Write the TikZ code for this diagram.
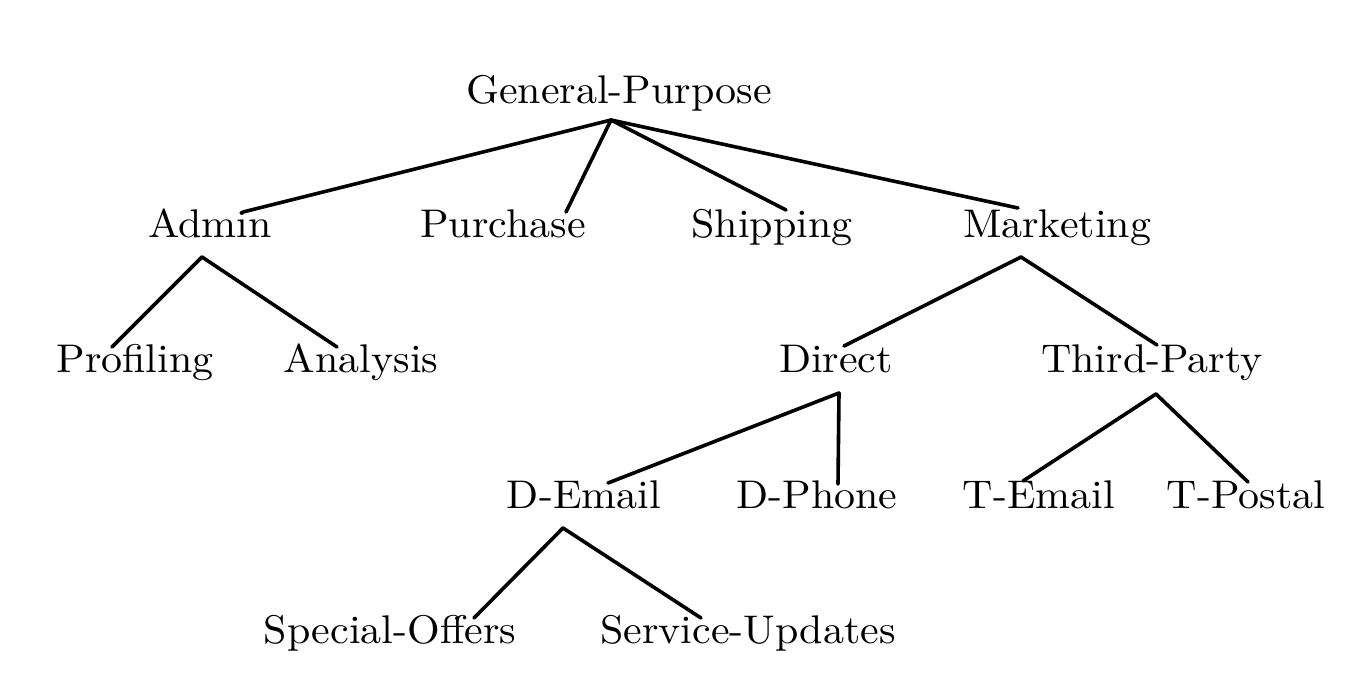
\documentclass[tikz,border=0pt]{standalone}
\begin{document}
\begin{tikzpicture}[x=1pt,y=-1pt,
  lbl/.style={anchor=base,scale=4,xscale=1.05,inner sep=0pt},
  edge/.style={line width=3.6pt,line cap=round,line join=round}]
\useasboundingbox (0,0) rectangle (1350,696);
% labels
\node[lbl] (gp) at (619,103) {General-Purpose};
\node[lbl] (admin) at (210,237) {Admin};
\node[lbl] (purch) at (503,237) {Purchase};
\node[lbl] (ship) at (772,237) {Shipping};
\node[lbl] (mkt) at (1057,237) {Marketing};
\node[lbl] (prof) at (135,372) {Profiling};
\node[lbl] (anal) at (361,372) {Analysis};
\node[lbl] (direct) at (836,372) {Direct};
\node[lbl] (third) at (1152,372) {Third-Party};
\node[lbl] (demail) at (584,508) {D-Email};
\node[lbl] (dphone) at (817,508) {D-Phone};
\node[lbl] (temail) at (1039,508) {T-Email};
\node[lbl] (tpostal) at (1246,508) {T-Postal};
\node[lbl] (offers) at (390,643) {Special-Offers};
\node[lbl] (updates) at (748,643) {Service-Updates};
% attachment points
\coordinate (gp-b) at (611,120);
\coordinate (admin-t) at (243,212);
\coordinate (purch-t) at (566,212);
\coordinate (ship-t) at (786,210);
\coordinate (mkt-t) at (1018,208);
\coordinate (admin-b) at (202,257);
\coordinate (prof-t) at (112,347);
\coordinate (anal-t) at (337,347);
\coordinate (mkt-b) at (1021,257);
\coordinate (direct-t) at (844,346);
\coordinate (third-t) at (1157,345);
\coordinate (direct-b) at (839,393);
\coordinate (demail-t) at (608,483);
\coordinate (dphone-t) at (838,484);
\coordinate (third-b) at (1156,394);
\coordinate (temail-t) at (1023,481);
\coordinate (tpostal-t) at (1248,482);
\coordinate (demail-b) at (563,528);
\coordinate (offers-t) at (474,618);
\coordinate (updates-t) at (701,618);
% connectors
\draw[edge] (gp-b) -- (admin-t);
\draw[edge] (gp-b) -- (purch-t);
\draw[edge] (gp-b) -- (ship-t);
\draw[edge] (gp-b) -- (mkt-t);
\draw[edge] (admin-b) -- (prof-t);
\draw[edge] (admin-b) -- (anal-t);
\draw[edge] (mkt-b) -- (direct-t);
\draw[edge] (mkt-b) -- (third-t);
\draw[edge] (direct-b) -- (demail-t);
\draw[edge] (direct-b) -- (dphone-t);
\draw[edge] (third-b) -- (temail-t);
\draw[edge] (third-b) -- (tpostal-t);
\draw[edge] (demail-b) -- (offers-t);
\draw[edge] (demail-b) -- (updates-t);
\end{tikzpicture}
\end{document}
